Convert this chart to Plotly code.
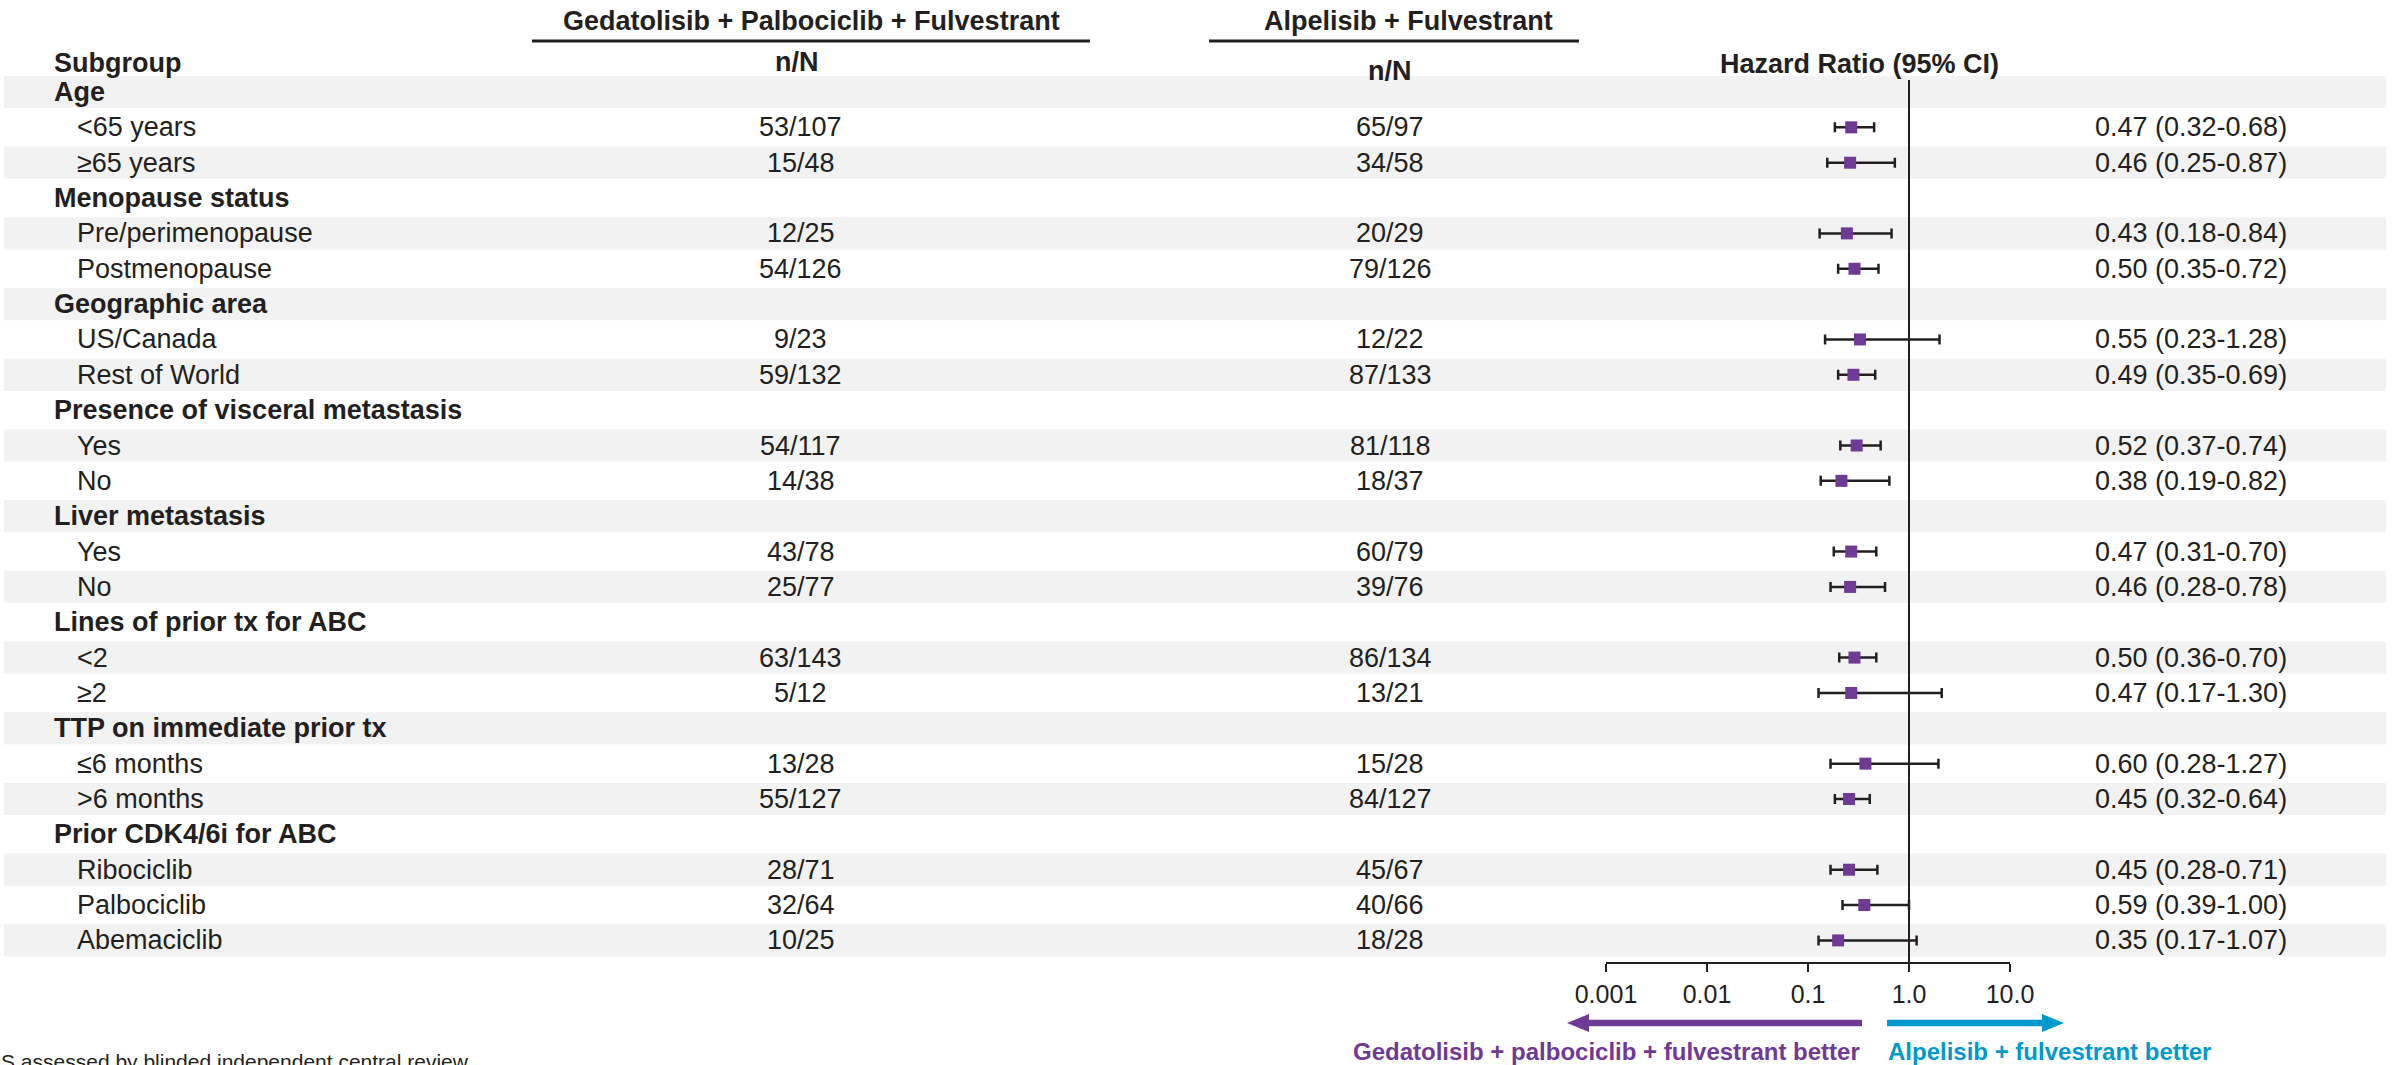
import plotly.graph_objects as go

# ---------------- data ----------------
groups = [
    "Age",
    "Menopause status",
    "Geographic area",
    "Presence of visceral metastasis",
    "Liver metastasis",
    "Lines of prior tx for ABC",
    "TTP on immediate prior tx",
    "Prior CDK4/6i for ABC",
]
subgroups = [
    ["<65 years", "≥65 years"],
    ["Pre/perimenopause", "Postmenopause"],
    ["US/Canada", "Rest of World"],
    ["Yes", "No"],
    ["Yes", "No"],
    ["<2", "≥2"],
    ["≤6 months", ">6 months"],
    ["Ribociclib", "Palbociclib", "Abemaciclib"],
]
gpf_events = [[53, 15], [12, 54], [9, 59], [54, 14], [43, 25], [63, 5], [13, 55], [28, 32, 10]]
gpf_total = [[107, 48], [25, 126], [23, 132], [117, 38], [78, 77], [143, 12], [28, 127], [71, 64, 25]]
af_events = [[65, 34], [20, 79], [12, 87], [81, 18], [60, 39], [86, 13], [15, 84], [45, 40, 18]]
af_total = [[97, 58], [29, 126], [22, 133], [118, 37], [79, 76], [134, 21], [28, 127], [67, 66, 28]]
hazard_ratio = [[0.47, 0.46], [0.43, 0.50], [0.55, 0.49], [0.52, 0.38], [0.47, 0.46], [0.50, 0.47], [0.60, 0.45], [0.45, 0.59, 0.35]]
ci_low = [[0.32, 0.25], [0.18, 0.35], [0.23, 0.35], [0.37, 0.19], [0.31, 0.28], [0.36, 0.17], [0.28, 0.32], [0.28, 0.39, 0.17]]
ci_high = [[0.68, 0.87], [0.84, 0.72], [1.28, 0.69], [0.74, 0.82], [0.70, 0.78], [0.70, 1.30], [1.27, 0.64], [0.71, 1.00, 1.07]]

axis_tick_values = [0.001, 0.01, 0.1, 1, 10]
axis_tick_labels = ["0.001", "0.01", "0.1", "1.0", "10.0"]

arm_a = "Gedatolisib + Palbociclib + Fulvestrant"
arm_b = "Alpelisib + Fulvestrant"
favours_a = "Gedatolisib + palbociclib + fulvestrant better"
favours_b = "Alpelisib + fulvestrant better"
footnote = "S assessed by blinded independent central review"

# ---------------- layout helpers ----------------
W, H = 2397, 1065
FONT = "Liberation Sans, Arial, Helvetica, sans-serif"
INK = "#231F20"
PURPLE = "#6F3996"
BLUE = "#0099CC"
BAND = "#F2F2F2"
TXT = 27


def px(x):
    return x / W


def py(y):
    return 1 - y / H


ROW0 = 92.0      # pixel centre of the first table row
PITCH = 35.35    # row pitch in pixels

# flatten the table into rows
rows = []
for g, name in enumerate(groups):
    rows.append(dict(kind="header", label=name))
    for k, sub in enumerate(subgroups[g]):
        rows.append(dict(
            kind="item", label=sub,
            a=f"{gpf_events[g][k]}/{gpf_total[g][k]}",
            b=f"{af_events[g][k]}/{af_total[g][k]}",
            hr=hazard_ratio[g][k], lo=ci_low[g][k], hi=ci_high[g][k],
        ))

fig = go.Figure()

shapes = []
annotations = []

# alternating row bands
for i, r in enumerate(rows):
    if i % 2 == 0:
        shapes.append(dict(type="rect", xref="paper", yref="y",
                           x0=px(4), x1=px(2386), y0=i - 0.455, y1=i + 0.455,
                           fillcolor=BAND, line=dict(width=0), layer="below"))

# table text
for i, r in enumerate(rows):
    if r["kind"] == "header":
        annotations.append(dict(xref="paper", yref="y", x=px(52), y=i,
                                text=f"<b>{r['label']}</b>", xanchor="left", yanchor="middle",
                                showarrow=False, font=dict(size=TXT, color=INK, family=FONT)))
    else:
        annotations.append(dict(xref="paper", yref="y", x=px(75), y=i,
                                text=r["label"], xanchor="left", yanchor="middle",
                                showarrow=False, font=dict(size=TXT, color=INK, family=FONT)))
        annotations.append(dict(xref="paper", yref="y", x=px(801), y=i,
                                text=r["a"], xanchor="center", yanchor="middle",
                                showarrow=False, font=dict(size=TXT, color=INK, family=FONT)))
        annotations.append(dict(xref="paper", yref="y", x=px(1390), y=i,
                                text=r["b"], xanchor="center", yanchor="middle",
                                showarrow=False, font=dict(size=TXT, color=INK, family=FONT)))
        annotations.append(dict(xref="paper", yref="y", x=px(2093), y=i,
                                text=f"{r['hr']:.2f} ({r['lo']:.2f}-{r['hi']:.2f})",
                                xanchor="left", yanchor="middle",
                                showarrow=False, font=dict(size=TXT, color=INK, family=FONT)))

# column headers
head_font = dict(size=TXT, color=INK, family=FONT)
annotations += [
    dict(xref="paper", yref="paper", x=px(811), y=py(21), text=f"<b>{arm_a}</b>",
         showarrow=False, xanchor="center", yanchor="middle", font=head_font),
    dict(xref="paper", yref="paper", x=px(1408), y=py(21), text=f"<b>{arm_b}</b>",
         showarrow=False, xanchor="center", yanchor="middle", font=head_font),
    dict(xref="paper", yref="paper", x=px(52), y=py(63), text="<b>Subgroup</b>",
         showarrow=False, xanchor="left", yanchor="middle", font=head_font),
    dict(xref="paper", yref="paper", x=px(797), y=py(62), text="<b>n/N</b>",
         showarrow=False, xanchor="center", yanchor="middle", font=head_font),
    dict(xref="paper", yref="paper", x=px(1390), y=py(71), text="<b>n/N</b>",
         showarrow=False, xanchor="center", yanchor="middle", font=head_font),
    dict(xref="paper", yref="paper", x=px(1859), y=py(64), text="<b>Hazard Ratio (95% CI)</b>",
         showarrow=False, xanchor="center", yanchor="middle", font=head_font),
]
shapes += [
    dict(type="line", xref="paper", yref="paper", x0=px(532), x1=px(1090), y0=py(41), y1=py(41),
         line=dict(color=INK, width=3)),
    dict(type="line", xref="paper", yref="paper", x0=px(1209), x1=px(1579), y0=py(41), y1=py(41),
         line=dict(color=INK, width=3)),
]

# reference line at HR = 1
shapes.append(dict(type="line", xref="x", yref="paper", x0=1, x1=1, y0=py(963), y1=py(80),
                   line=dict(color=INK, width=2), layer="below"))

# favour arrows
def arrow_path(tip, base, yc, head_len=22, head_half=9, shaft_half=3.3):
    d = 1 if base > tip else -1
    hb = tip + d * head_len
    pts = [(tip, yc), (hb, yc - head_half), (hb, yc - shaft_half), (base, yc - shaft_half),
           (base, yc + shaft_half), (hb, yc + shaft_half), (hb, yc + head_half)]
    return "M " + " L ".join(f"{px(x):.6f},{py(y):.6f}" for x, y in pts) + " Z"


shapes.append(dict(type="path", xref="paper", yref="paper", path=arrow_path(1567, 1862, 1023),
                   fillcolor=PURPLE, line=dict(width=0)))
shapes.append(dict(type="path", xref="paper", yref="paper", path=arrow_path(2064, 1887, 1023),
                   fillcolor=BLUE, line=dict(width=0)))
annotations += [
    dict(xref="paper", yref="paper", x=px(1862), y=py(1051), text=f"<b>{favours_a}</b>",
         showarrow=False, xanchor="right", yanchor="middle",
         font=dict(size=24, color=PURPLE, family=FONT)),
    dict(xref="paper", yref="paper", x=px(1886), y=py(1051), text=f"<b>{favours_b}</b>",
         showarrow=False, xanchor="left", yanchor="middle",
         font=dict(size=24, color=BLUE, family=FONT)),
    dict(xref="paper", yref="paper", x=px(-1), y=py(1048), text=footnote,
         showarrow=False, xanchor="left", yanchor="top",
         font=dict(size=21, color=INK, family=FONT)),
]

# forest marks
items = [(i, r) for i, r in enumerate(rows) if r["kind"] == "item"]
fig.add_trace(go.Scatter(
    x=[r["hr"] for _, r in items],
    y=[i for i, _ in items],
    mode="markers",
    marker=dict(symbol="square", size=12, color=PURPLE, line=dict(width=0)),
    error_x=dict(type="data", symmetric=False,
                 array=[r["hi"] - r["hr"] for _, r in items],
                 arrayminus=[r["hr"] - r["lo"] for _, r in items],
                 color=INK, thickness=2.5, width=5),
    showlegend=False, hoverinfo="skip", cliponaxis=False,
))
# carrier trace for the labelled HR axis
fig.add_trace(go.Scatter(x=[1], y=[None], xaxis="x2", yaxis="y", mode="markers",
                         showlegend=False, hoverinfo="skip"))

dom = [px(1606), px(2010)]
fig.update_layout(
    width=W, height=H,
    margin=dict(l=0, r=0, t=0, b=0, pad=0, autoexpand=False),
    paper_bgcolor="white", plot_bgcolor="rgba(0,0,0,0)",
    xaxis=dict(domain=dom, range=[1 - 303 / 109, 1 + 101 / 109], visible=False,
               fixedrange=True, automargin=False),
    xaxis2=dict(type="log", overlaying="x", anchor="free", position=py(963), side="bottom",
                range=[-3, 1], tickvals=axis_tick_values, ticktext=axis_tick_labels,
                showline=True, linecolor=INK, linewidth=2, ticks="outside", ticklen=8,
                tickwidth=2, tickcolor=INK, showgrid=False, zeroline=False, automargin=False,
                tickfont=dict(size=25, color=INK, family=FONT), ticklabelstandoff=1),
    yaxis=dict(domain=[0, 1], range=[(H - ROW0) / PITCH, -ROW0 / PITCH], visible=False,
               fixedrange=True, automargin=False),
    shapes=shapes,
    annotations=annotations,
    font=dict(family=FONT, color=INK),
)

fig.write_html("out.html")
